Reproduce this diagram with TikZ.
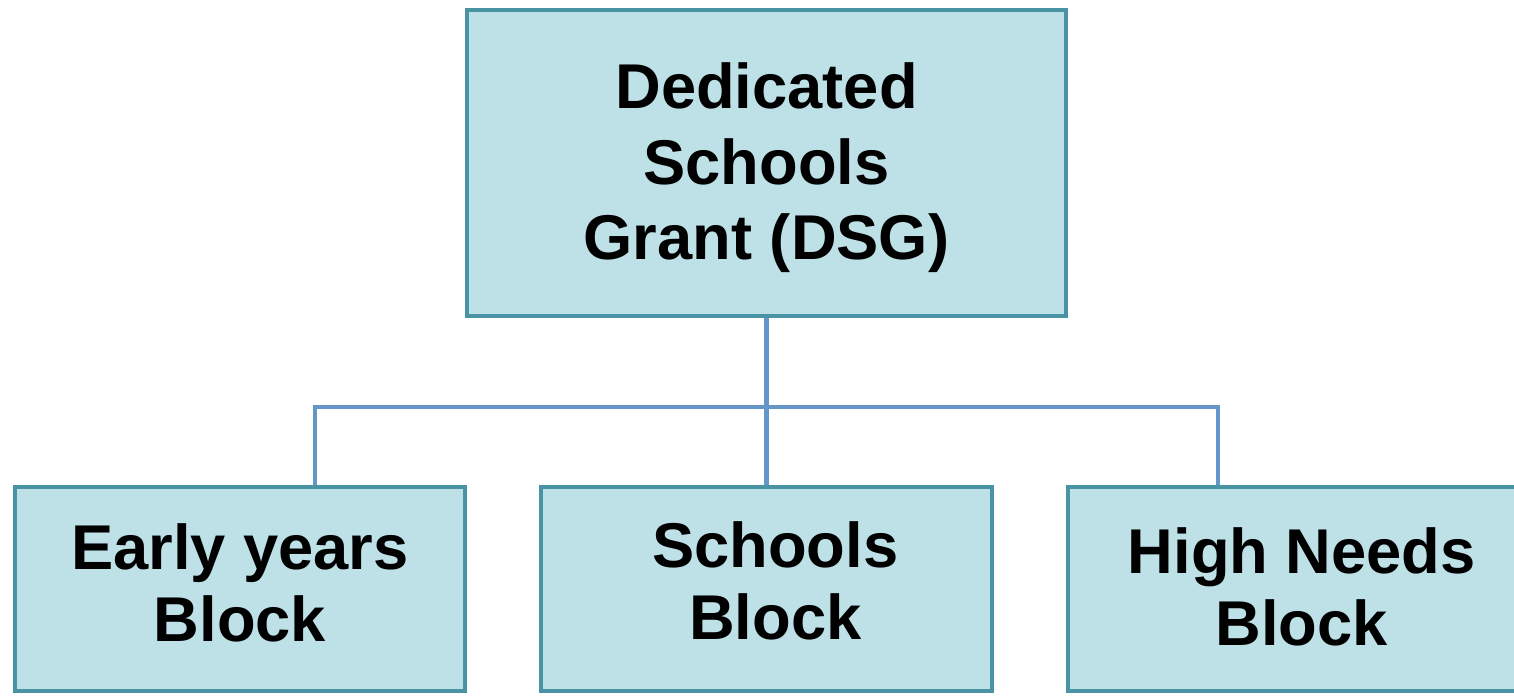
\documentclass[tikz,border=0pt]{standalone}
\usepackage{fontspec}
\setmainfont{Liberation Sans}
\definecolor{boxfill}{HTML}{BDE1E7}
\definecolor{boxline}{HTML}{4A93A5}
\definecolor{linkline}{HTML}{6497C8}
\begin{document}
\begin{tikzpicture}[thick,
    block node/.style={rectangle,draw=boxline,fill=boxfill,line width=2.8pt,
        align=center,font=\fontsize{36}{43}\selectfont\bfseries},
    sub node/.style={block node,minimum width=9cm,minimum height=4.08cm,
        font=\fontsize{36}{41}\selectfont\bfseries},
    link/.style={draw=linkline,line width=2.8pt}]

  \useasboundingbox (0,0) rectangle (30.28,-13.9);
  \begin{scope}
  \clip (0,0) rectangle (30.28,-13.9);

  \node[block node,minimum width=11.98cm,minimum height=6.12cm,text depth=2pt] (dsg) at (15.33,-3.26)
      {Dedicated\\Schools\\Grant (DSG)};
  \node[sub node,text depth=7pt] (early) at (4.8,-11.78)
      {Early years\\Block};
  \node[sub node,minimum width=9.02cm,text depth=10pt] (schools) at (15.33,-11.78)
      {\ Schools\\\ Block};
  \node[sub node,text depth=3pt] (high) at (25.86,-11.78)
      {\ High Needs\\\ Block};

  \coordinate (jl) at (6.3,-8.14);
  \coordinate (jr) at (24.36,-8.14);

  \path[link]
    (dsg.south) -- (schools.north)
    (early.north -| jl) |- (jr) -- (jr |- high.north);
  \end{scope}

\end{tikzpicture}
\end{document}
